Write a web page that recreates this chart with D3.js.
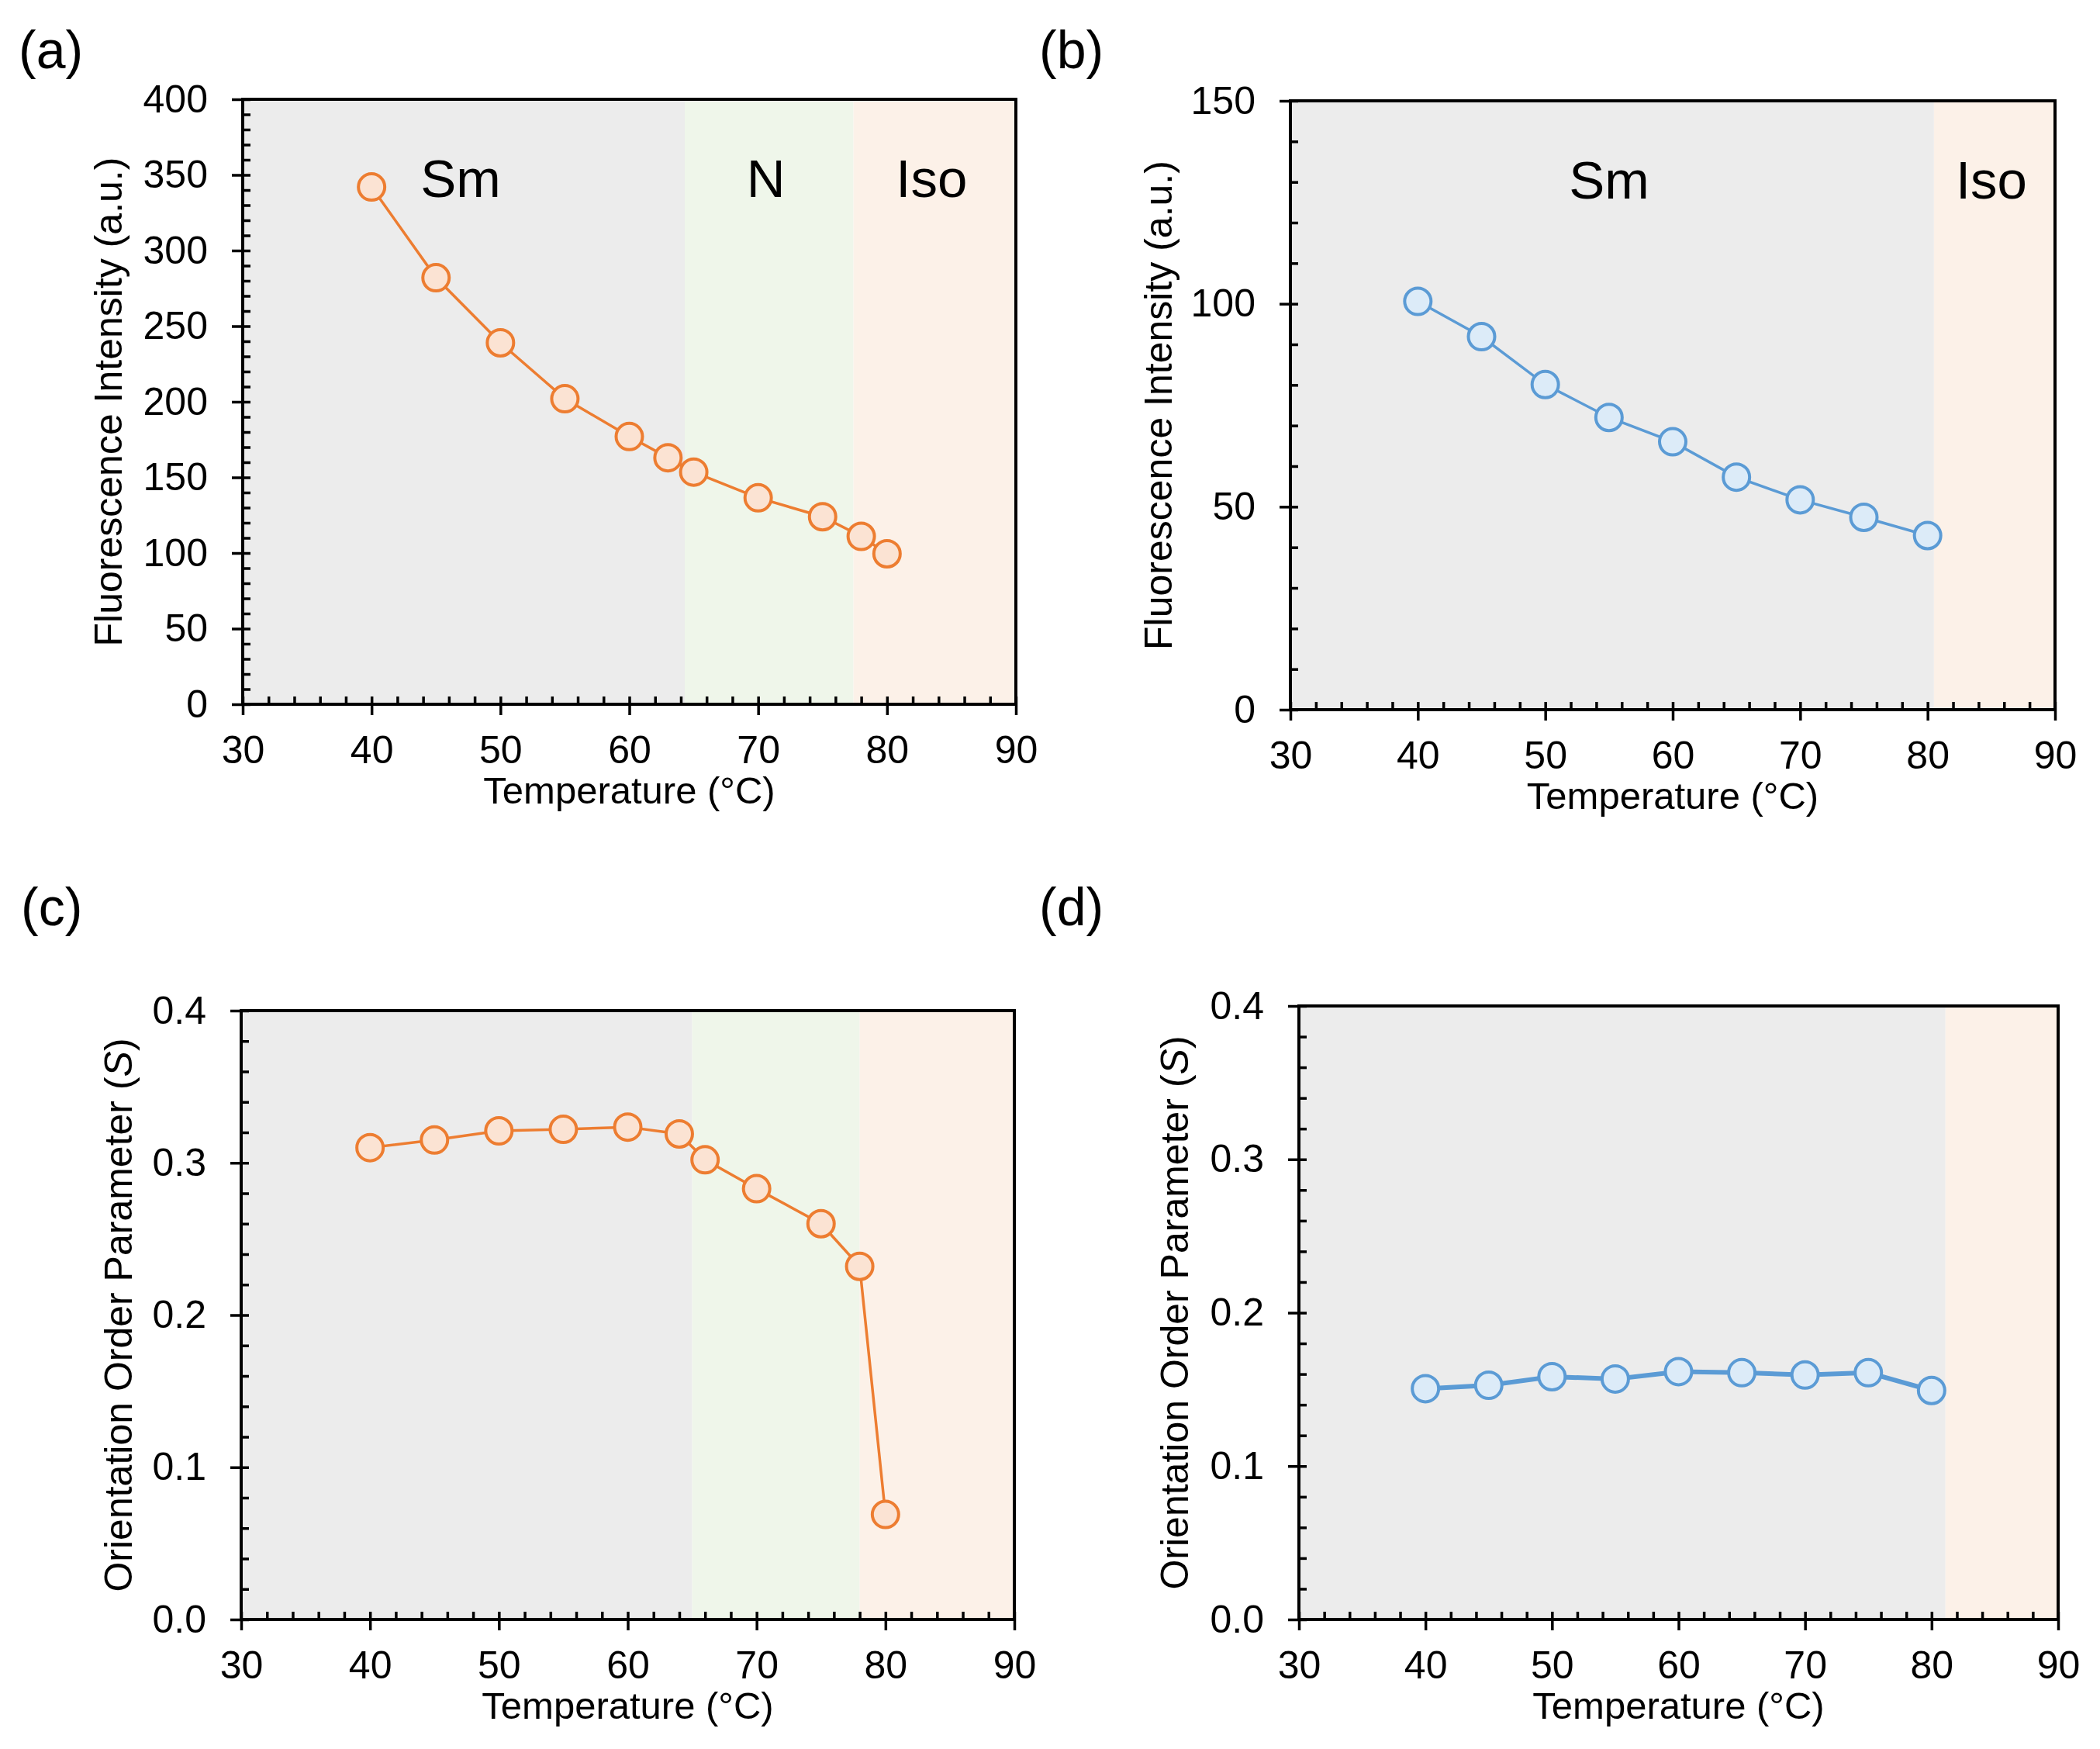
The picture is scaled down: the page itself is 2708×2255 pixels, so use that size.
<!DOCTYPE html>
<html>
<head>
<meta charset="utf-8">
<script src="https://cdn.jsdelivr.net/npm/d3@7"></script>
<style>
  body { margin: 0; background: #fff; }
  text { font-family: "Liberation Sans", Arial, sans-serif; fill: #000; }
</style>
</head>
<body>
<div class="figure"></div>
<script>
// values
var tempA = [40, 45, 50, 55, 60, 63, 65, 70, 75, 78, 80];
var fluorA = [342, 282, 239, 202, 177, 163, 153.5, 136.5, 124, 111, 99.5];

var tempB = [40, 45, 50, 55, 60, 65, 70, 75, 80];
var fluorB = [100.6, 91.9, 80.1, 72, 66, 57.3, 51.7, 47.4, 42.9];

var tempC = [40, 45, 50, 55, 60, 64, 66, 70, 75, 78, 80];
var orderC = [0.310, 0.315, 0.321, 0.322, 0.3235, 0.319, 0.302, 0.283, 0.260, 0.232, 0.069];

var tempD = [40, 45, 50, 55, 60, 65, 70, 75, 80];
var orderD = [0.1505, 0.1527, 0.1583, 0.1568, 0.1616, 0.1609, 0.1594, 0.1609, 0.1493];

// phase ranges (°C)
var phaseNamesA = ["Sm", "N", "Iso"];
var phaseEdgesA = [30, 64.3, 77.4, 90];
var phaseNamesB = ["Sm", "Iso"];
var phaseEdgesB = [30, 80.5, 90];
var phaseEdgesC = [30, 65, 78, 90];
var phaseEdgesD = [30, 81.1, 90];

var xTicks = [30, 40, 50, 60, 70, 80, 90];
var fluorTicksA = [0, 50, 100, 150, 200, 250, 300, 350, 400];
var fluorTicksB = [0, 50, 100, 150];
var orderTicks = [0, 0.1, 0.2, 0.3, 0.4];

var W = 2708, H = 2255;

var phaseFill = { "Sm": "#ececec", "N": "#eff6ea", "Iso": "#fcf1e8" };
var orange = { line: "#ed7d31", fill: "#fbe3d3" };
var blue = { line: "#5b9bd5", fill: "#dcebf8" };

var svg = d3.select(".figure")
  .append("svg")
  .attr("width", W)
  .attr("height", H);

function range(a, b, step) {
  var out = [];
  for (var v = a; v <= b + step / 2; v += step) out.push(+v.toFixed(4));
  return out;
}

function panel(o) {
  var x = d3.scaleLinear().domain([30, 90]).range([o.x0, o.x1]);
  var y = d3.scaleLinear().domain(o.yDomain).range([o.y1, o.y0]);
  var g = svg.append("g");

  // phase backgrounds
  var bands = o.names.map((n, i) => ({ name: n, from: o.edges[i], to: o.edges[i + 1] }));
  g.selectAll("rect.band")
    .data(bands)
    .enter()
    .append("rect")
    .attr("class", "band")
    .attr("x", d => x(d.from))
    .attr("y", o.y0)
    .attr("width", d => x(d.to) - x(d.from))
    .attr("height", o.y1 - o.y0)
    .attr("fill", d => phaseFill[d.name]);

  if (o.showNames) {
    g.selectAll("text.phase")
      .data(bands)
      .enter()
      .append("text")
      .attr("class", "phase")
      .attr("x", d => x((d.from + d.to) / 2) - 4)
      .attr("y", o.y0 + 126)
      .attr("text-anchor", "middle")
      .style("font-size", "69px")
      .text(d => d.name);
  }

  // minor ticks inside
  var yMinor = d3.axisRight(y).tickValues(range(o.yDomain[0], o.yDomain[1], o.yMinor)).tickSize(10).tickFormat("");
  g.append("g").attr("transform", "translate(" + o.x0 + ",0)").call(yMinor);
  var xMinor = d3.axisTop(x).tickValues(range(30, 90, 2)).tickSize(10).tickFormat("");
  g.append("g").attr("transform", "translate(0," + o.y1 + ")").call(xMinor);

  // major ticks outside
  var yAxis = d3.axisLeft(y).tickValues(o.yTicks).tickSize(14).tickPadding(31).tickFormat(o.fmt);
  g.append("g").attr("class", "ax").attr("transform", "translate(" + o.x0 + ",0)").call(yAxis);
  var xAxis = d3.axisBottom(x).tickValues(xTicks).tickSize(14).tickPadding(26);
  g.append("g").attr("class", "ax").attr("transform", "translate(0," + o.y1 + ")").call(xAxis);

  g.selectAll(".domain").remove();
  g.selectAll(".tick line").attr("stroke", "#000").attr("stroke-width", 3.5);
  g.selectAll(".ax text").style("font-size", "50px").attr("fill", "#000");

  g.append("rect")
    .attr("x", o.x0)
    .attr("y", o.y0)
    .attr("width", o.x1 - o.x0)
    .attr("height", o.y1 - o.y0)
    .attr("fill", "none")
    .attr("stroke", "#000")
    .attr("stroke-width", 4);

  // data
  var pts = o.xs.map((t, i) => [t, o.ys[i]]);
  var line = d3.line().x(d => x(d[0])).y(d => y(d[1]));
  g.append("path")
    .attr("d", line(pts))
    .attr("fill", "none")
    .attr("stroke", o.col.line)
    .attr("stroke-width", o.lw);
  g.selectAll("circle")
    .data(pts)
    .enter()
    .append("circle")
    .attr("cx", d => x(d[0]))
    .attr("cy", d => y(d[1]))
    .attr("r", 17)
    .attr("fill", o.col.fill)
    .attr("stroke", o.col.line)
    .attr("stroke-width", 4);

  // axis titles
  g.append("text")
    .attr("x", (o.x0 + o.x1) / 2)
    .attr("y", o.y1 + 128)
    .attr("text-anchor", "middle")
    .style("font-size", "49px")
    .text("Temperature (°C)");

  var yt = g.append("text")
    .attr("transform", "translate(" + (o.x0 - o.titleOff) + "," + (o.y0 + o.y1) / 2 + ") rotate(-90)")
    .attr("text-anchor", "middle")
    .style("font-size", "50px");
  if (o.italicS) {
    yt.append("tspan").text("Orientation Order Parameter (");
    yt.append("tspan").style("font-style", "italic").text("S");
    yt.append("tspan").text(")");
  } else {
    yt.text("Fluorescence Intensity (a.u.)");
  }

  svg.append("text")
    .attr("x", o.labX)
    .attr("y", o.labY)
    .style("font-size", "68px")
    .text(o.label);
}

panel({ label: "(a)", labX: 24, labY: 88, x0: 313, x1: 1310, y0: 128, y1: 908,
  yDomain: [0, 400], yTicks: fluorTicksA, yMinor: 10, fmt: d3.format("d"),
  edges: phaseEdgesA, names: phaseNamesA, showNames: true,
  xs: tempA, ys: fluorA, col: orange, lw: 3.5, titleOff: 156 });

panel({ label: "(b)", labX: 1340, labY: 88, x0: 1664, x1: 2650, y0: 130, y1: 915,
  yDomain: [0, 150], yTicks: fluorTicksB, yMinor: 10, fmt: d3.format("d"),
  edges: phaseEdgesB, names: phaseNamesB, showNames: true,
  xs: tempB, ys: fluorB, col: blue, lw: 3.5, titleOff: 153 });

panel({ label: "(c)", labX: 27, labY: 1193, x0: 311, x1: 1308, y0: 1303, y1: 2088,
  yDomain: [0, 0.4], yTicks: orderTicks, yMinor: 0.02, fmt: d3.format(".1f"),
  edges: phaseEdgesC, names: phaseNamesA, showNames: false,
  xs: tempC, ys: orderC, col: orange, lw: 3.5, titleOff: 141, italicS: true });

panel({ label: "(d)", labX: 1340, labY: 1193, x0: 1675, x1: 2654, y0: 1297, y1: 2088,
  yDomain: [0, 0.4], yTicks: orderTicks, yMinor: 0.02, fmt: d3.format(".1f"),
  edges: phaseEdgesD, names: phaseNamesB, showNames: false,
  xs: tempD, ys: orderD, col: blue, lw: 6, titleOff: 143, italicS: true });
</script>
</body>
</html>
